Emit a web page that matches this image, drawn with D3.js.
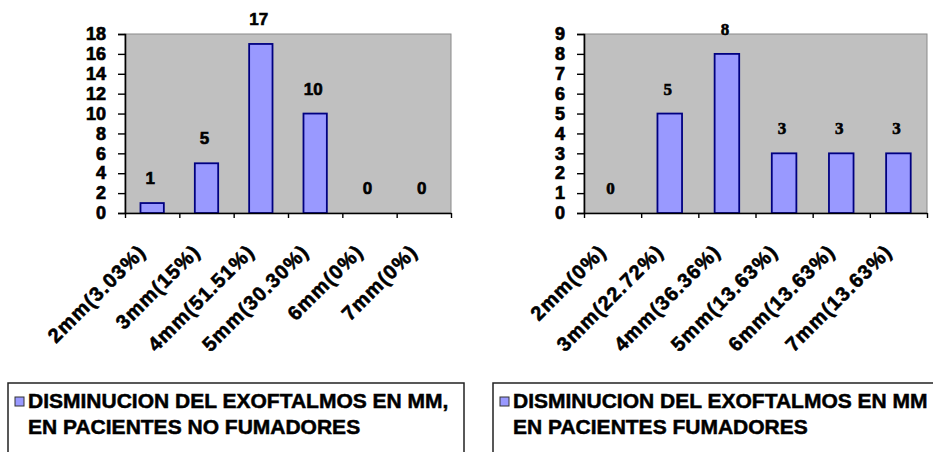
<!DOCTYPE html>
<html>
<head>
<meta charset="utf-8">
<script src="https://cdn.jsdelivr.net/npm/d3@7"></script>
<style>
  html, body { margin: 0; padding: 0; background: #ffffff; }
  svg { display: block; }
</style>
</head>
<body>
<svg id="chart" width="933" height="452"></svg>
<script>
// Non-smokers: decrease of exophthalmos in mm
const categoriesNoFum = ["2mm(3.03%)", "3mm(15%)", "4mm(51.51%)", "5mm(30.30%)", "6mm(0%)", "7mm(0%)"];
const valuesNoFum = [1, 5, 17, 10, 0, 0];
const yTicksNoFum = [0, 2, 4, 6, 8, 10, 12, 14, 16, 18];
const legendNoFum = ["DISMINUCION DEL EXOFTALMOS EN MM,", "EN PACIENTES NO FUMADORES"];

// Smokers: decrease of exophthalmos in mm
const categoriesFum = ["2mm(0%)", "3mm(22.72%)", "4mm(36.36%)", "5mm(13.63%)", "6mm(13.63%)", "7mm(13.63%)"];
const valuesFum = [0, 5, 8, 3, 3, 3];
const yTicksFum = [0, 1, 2, 3, 4, 5, 6, 7, 8, 9];
const legendFum = ["DISMINUCION DEL EXOFTALMOS EN MM", "EN PACIENTES FUMADORES"];

const svg = d3.select("#chart");
const SANS = "'Liberation Sans', Arial, sans-serif";
const SERIF = "'Liberation Serif', 'Times New Roman', serif";

// heavy bold text used throughout the charts
function heavy(sel, family, size, stroke) {
  sel.attr("font-family", family)
    .attr("font-weight", "bold")
    .attr("font-size", size)
    .attr("fill", "#000")
    .attr("stroke", "#000")
    .attr("stroke-width", stroke)
    .attr("paint-order", "stroke");
}

function drawPanel(opts) {
  const { cats, vals, ticks, left, right, top, bottom, valueFont, legend, box } = opts;
  const g = svg.append("g");

  const y = d3.scaleLinear()
    .domain([0, d3.max(ticks)])
    .range([bottom, top]);
  const x = d3.scaleBand()
    .domain(cats)
    .range([left, right])
    .paddingInner(0.57)
    .paddingOuter(0.285);
  // boundaries between categories, where the axis ticks sit
  const xEdge = d3.scaleLinear().domain([0, cats.length]).range([left, right]);

  // plot area
  g.append("rect")
    .attr("x", left).attr("y", top)
    .attr("width", right - left).attr("height", bottom - top)
    .attr("fill", "#c0c0c0")
    .attr("stroke", "#8a8a8a")
    .attr("stroke-width", 1);

  // bars
  g.selectAll("rect.bar")
    .data(vals)
    .join("rect")
    .attr("class", "bar")
    .attr("x", (d, i) => x(cats[i]))
    .attr("y", d => y(d))
    .attr("width", x.bandwidth())
    .attr("height", d => y(0) - y(d))
    .attr("fill", "#9999ff")
    .attr("stroke", "#000080")
    .attr("stroke-width", 1.8)
    .attr("display", d => d > 0 ? null : "none");

  // value labels
  g.selectAll("text.val")
    .data(vals)
    .join("text")
    .attr("class", "val")
    .attr("x", (d, i) => x(cats[i]) + x.bandwidth() / 2 - 2)
    .attr("y", d => y(d) - 19)
    .attr("text-anchor", "middle")
    .call(heavy, valueFont, 17, 0.6)
    .text(d => d);

  // y axis
  const yAxis = g.append("g")
    .attr("transform", `translate(${left},0)`)
    .call(d3.axisLeft(y).tickValues(ticks).tickSize(7).tickPadding(12).tickFormat(d3.format("d")));
  yAxis.select(".domain").attr("stroke", "#000").attr("stroke-width", 1.6);
  yAxis.selectAll(".tick line").attr("stroke", "#000").attr("stroke-width", 1.4);
  yAxis.selectAll("text").call(heavy, SANS, 18, 0.7);

  // x axis (ticks between categories)
  const xAxis = g.append("g")
    .attr("transform", `translate(0,${bottom})`)
    .call(d3.axisBottom(xEdge).tickValues(d3.range(cats.length + 1)).tickSize(5).tickSizeOuter(0).tickFormat(""));
  xAxis.select(".domain").attr("stroke", "#000").attr("stroke-width", 1.6);
  xAxis.selectAll(".tick line").attr("stroke", "#000").attr("stroke-width", 1.4);

  // rotated category labels
  g.selectAll("text.cat")
    .data(cats)
    .join("text")
    .attr("class", "cat")
    .attr("transform", d => `translate(${x(d) + x.bandwidth() / 2 - 10},${bottom + 35}) rotate(-45)`)
    .attr("text-anchor", "end")
    .attr("dominant-baseline", "central")
    .attr("letter-spacing", 1.2)
    .call(heavy, SANS, 20, 0.6)
    .text(d => d);

  // legend
  const lg = svg.append("g");
  lg.append("rect")
    .attr("x", box.x).attr("y", box.y)
    .attr("width", box.w).attr("height", box.h)
    .attr("fill", "#ffffff")
    .attr("stroke", "#222")
    .attr("stroke-width", 1.5);
  lg.append("rect")
    .attr("x", box.x + 7).attr("y", box.y + 14)
    .attr("width", 9).attr("height", 9)
    .attr("fill", "#9999ff")
    .attr("stroke", "#333")
    .attr("stroke-width", 1);
  lg.selectAll("text")
    .data(legend)
    .join("text")
    .attr("x", box.x + 20)
    .attr("y", (d, i) => box.y + 25 + i * 26)
    .call(heavy, SANS, 21, 0.5)
    .text(d => d);
}

drawPanel({
  cats: categoriesNoFum, vals: valuesNoFum, ticks: yTicksNoFum,
  left: 125, right: 451, top: 34, bottom: 213,
  valueFont: SANS, legend: legendNoFum,
  box: { x: 8, y: 383, w: 456, h: 90 }
});

drawPanel({
  cats: categoriesFum, vals: valuesFum, ticks: yTicksFum,
  left: 584, right: 927, top: 34, bottom: 213,
  valueFont: SERIF, legend: legendFum,
  box: { x: 493, y: 383, w: 460, h: 90 }
});
</script>
</body>
</html>
